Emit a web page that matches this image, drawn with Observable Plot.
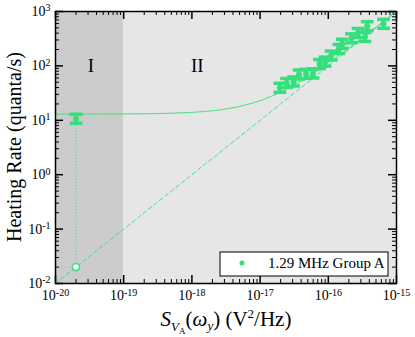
<!DOCTYPE html>
<html>
<head>
<meta charset="utf-8">
<script src="https://cdn.jsdelivr.net/npm/d3@7"></script>
<script src="https://cdn.jsdelivr.net/npm/@observablehq/plot@0.6"></script>
<style>
  html, body { margin: 0; padding: 0; background: white; }
</style>
</head>
<body>
<div id="chart"></div>
<script>
// ---- data ----
const xVals = [1.95e-17, 2.45e-17, 3.09e-17, 3.72e-17, 4.71e-17, 5.97e-17, 7.43e-17, 8.95e-17, 1.10e-16, 1.43e-16, 1.60e-16, 2.19e-16, 2.73e-16, 3.45e-16, 3.72e-16, 6.44e-16];
const yVals = [39.6, 48.5, 51.7, 69.5, 71.6, 72.5, 108, 120, 155, 205, 255, 321, 403, 340, 537, 594];
const lowX = [2e-20];
const lowY = [10.7];
const lowOpenY = [0.02];
const regionX1 = [1e-20, 1e-19];
const regionX2 = [1e-19, 1e-15];
const regionFill = ["#cccccc", "#e6e6e6"];
const regionLabels = ["I", "II"];
const regionLabelX = [3.3e-20, 1.2e-18];
const regionLabelY = [100, 100];
const xMajor = [1e-20, 1e-19, 1e-18, 1e-17, 1e-16, 1e-15];
const yMajor = [1e-2, 1e-1, 1e0, 1e1, 1e2, 1e3];
const fitOffset = 13;   // quanta/s
const fitSlope = 1e18;  // quanta/s per V^2/Hz
const legendLabel = "1.29 MHz Group A";

// ---- derived ----
const green = "#35e07c";
const pts = xVals.map((x, i) => ({x, y: yVals[i]}));
const lowPts = lowX.map((x, i) => ({x, y: lowY[i]}));
const allPts = pts.concat(lowPts);
const errF = 1.21, capF = 1.24;
const regions = regionX1.map((x1, i) => ({x1, x2: regionX2[i], fill: regionFill[i]}));
const fitX = d3.range(0, 301).map(i => Math.pow(10, -20 + i * 5 / 300));
const fitSolid = fitX.map(x => ({x, y: fitOffset + fitSlope * x}));
const fitDashed = fitX.map(x => ({x, y: fitSlope * x}));
const minorOf = (majors) => majors.slice(0, -1).flatMap(m => d3.range(2, 10).map(k => m * k));
const xMinor = minorOf(xMajor);
const yMinor = minorOf(yMajor);
const fmt = d => "10^" + Math.round(Math.log10(d));

const W = 415, H = 337, mL = 55, mR = 19, mT = 11, mB = 54;
const pW = W - mL - mR, pH = H - mT - mB;
const majLen = 8, minLen = 4;

const svg = Plot.plot({
  width: W, height: H,
  marginLeft: mL, marginRight: mR, marginTop: mT, marginBottom: mB,
  style: {fontFamily: "'Liberation Serif', 'Times New Roman', serif", fontSize: "14px", background: "white", color: "black"},
  x: {type: "log", domain: [1e-20, 1e-15], ticks: xMajor, tickFormat: fmt, tickSize: 0, tickPadding: 7, label: null},
  y: {type: "log", domain: [1e-2, 1e3], ticks: yMajor, tickFormat: fmt, tickSize: 0, tickPadding: 5, label: null},
  marks: [
    Plot.rect(regions, {x1: "x1", x2: "x2", fill: "fill"}),
    Plot.text(regionLabels, {x: (d, i) => regionLabelX[i], y: (d, i) => regionLabelY[i], text: d => d, fontSize: 19, fill: "black"}),
    // ticks
    Plot.ruleX(xMajor, {insetTop: pH - majLen, stroke: "black", strokeWidth: 1.5}),
    Plot.ruleX(xMajor, {insetBottom: pH - majLen, stroke: "black", strokeWidth: 1.5}),
    Plot.ruleX(xMinor, {insetTop: pH - minLen, stroke: "black", strokeWidth: 1}),
    Plot.ruleX(xMinor, {insetBottom: pH - minLen, stroke: "black", strokeWidth: 1}),
    Plot.ruleY(yMajor, {insetRight: pW - majLen, stroke: "black", strokeWidth: 1.5}),
    Plot.ruleY(yMajor, {insetLeft: pW - majLen, stroke: "black", strokeWidth: 1.5}),
    Plot.ruleY(yMinor, {insetRight: pW - minLen, stroke: "black", strokeWidth: 1}),
    Plot.ruleY(yMinor, {insetLeft: pW - minLen, stroke: "black", strokeWidth: 1}),
    // fit lines
    Plot.line(fitDashed, {x: "x", y: "y", stroke: green, strokeWidth: 1, strokeDasharray: "4,3", clip: true}),
    Plot.line(fitSolid, {x: "x", y: "y", stroke: green, strokeWidth: 1, clip: true}),
    // dotted guides for the low point
    Plot.link(lowPts, {x1: "x", x2: "x", y1: (d, i) => lowOpenY[i], y2: "y", stroke: green, strokeWidth: 1, strokeDasharray: "1,2"}),
    Plot.link(lowPts, {x1: 1e-20, x2: "x", y1: (d, i) => lowOpenY[i], y2: (d, i) => lowOpenY[i], stroke: green, strokeWidth: 1, strokeDasharray: "1,2"}),
    Plot.dot(lowPts, {x: "x", y: (d, i) => lowOpenY[i], r: 3.5, fill: "white", stroke: green, strokeWidth: 1.5}),
    // error bars
    Plot.link(allPts, {x1: "x", x2: "x", y1: d => d.y / errF, y2: d => d.y * errF, stroke: green, strokeWidth: 3.5}),
    Plot.link(allPts, {x1: d => d.x / capF, x2: d => d.x * capF, y1: d => d.y / errF, y2: d => d.y / errF, stroke: green, strokeWidth: 3.5}),
    Plot.link(allPts, {x1: d => d.x / capF, x2: d => d.x * capF, y1: d => d.y * errF, y2: d => d.y * errF, stroke: green, strokeWidth: 3.5}),
    Plot.dot(allPts, {x: "x", y: "y", r: 3, fill: green}),
    Plot.frame({stroke: "black", strokeWidth: 1.5})
  ]
});

// superscript tick labels
svg.querySelectorAll("text, tspan").forEach(el => {
  if (el.childElementCount) return;
  const m = /^10\^(-?\d+)$/.exec(el.textContent.trim());
  if (!m) return;
  el.textContent = "10";
  const t = document.createElementNS("http://www.w3.org/2000/svg", "tspan");
  t.setAttribute("dy", "-0.45em");
  t.setAttribute("font-size", "10px");
  t.textContent = m[1];
  el.appendChild(t);
});

const s = d3.select(svg);
// legend
const lg = s.append("g");
lg.append("rect").attr("x", 220).attr("y", 252).attr("width", 168).attr("height", 24)
  .attr("fill", "white").attr("stroke", "black").attr("stroke-width", 1);
lg.append("circle").attr("cx", 242).attr("cy", 263).attr("r", 2.5).attr("fill", green);
lg.append("text").attr("x", 268).attr("y", 268).attr("text-anchor", "start")
  .attr("font-size", 15).attr("fill", "black").text(legendLabel);

// y label
s.append("text").attr("transform", "translate(21,147) rotate(-90)")
  .attr("text-anchor", "middle").attr("font-size", 20).attr("fill", "black")
  .text("Heating Rate (quanta/s)");

// x label
const xl = s.append("text").attr("x", 226).attr("y", 326).attr("text-anchor", "middle")
  .attr("font-size", 21).attr("fill", "black");
xl.append("tspan").attr("font-style", "italic").text("S");
xl.append("tspan").attr("font-style", "italic").attr("font-size", 13).attr("dy", 5).text("V");
xl.append("tspan").attr("font-size", 9).attr("dy", 3).text("A");
xl.append("tspan").attr("dy", -8).text("(");
xl.append("tspan").attr("font-style", "italic").text("ω");
xl.append("tspan").attr("font-style", "italic").attr("font-size", 13).attr("dy", 4).text("y");
xl.append("tspan").attr("dy", -4).text(") (V");
xl.append("tspan").attr("font-size", 13).attr("dy", -8).text("2");
xl.append("tspan").attr("dy", 8).text("/Hz)");

document.getElementById("chart").appendChild(svg);
</script>
</body>
</html>
